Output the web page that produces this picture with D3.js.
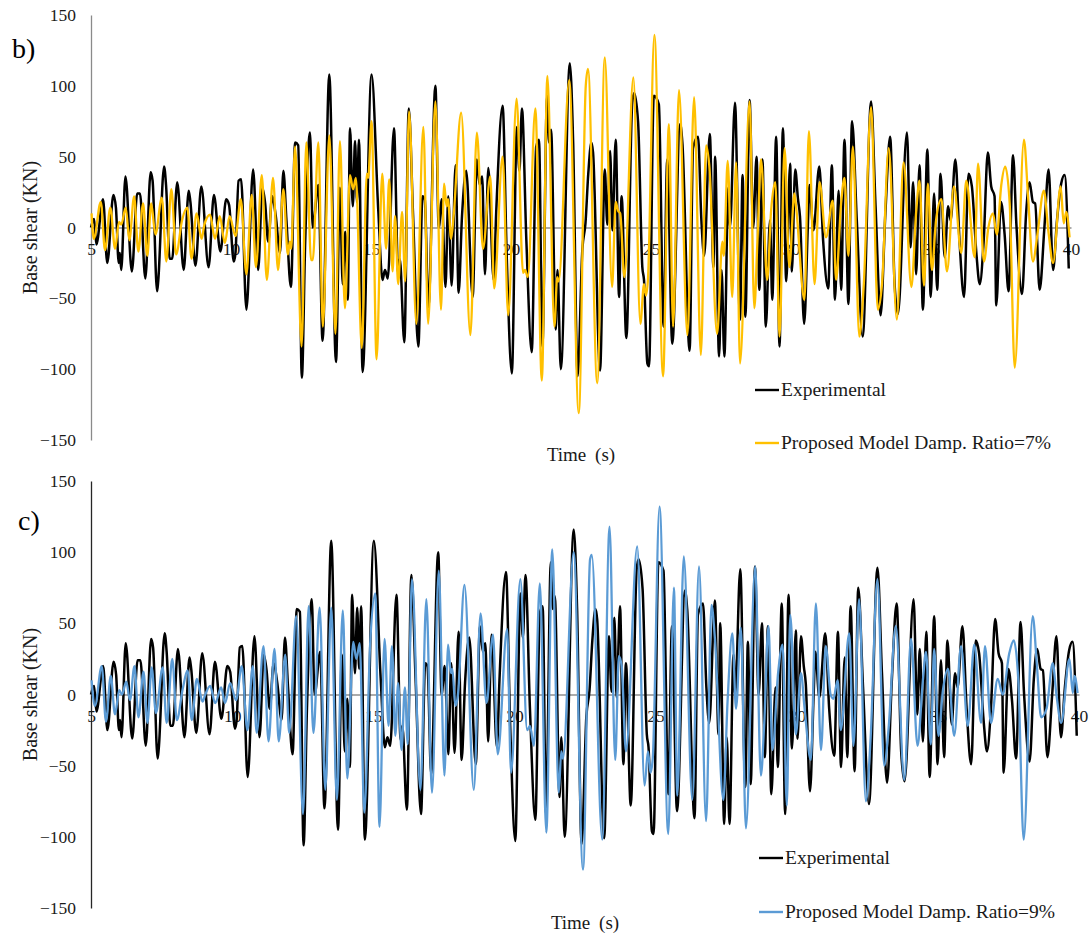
<!DOCTYPE html>
<html>
<head>
<meta charset="utf-8">
<script src="https://cdn.jsdelivr.net/npm/d3@7"></script>
<style>
  html, body { margin: 0; padding: 0; background: #fff; }
  svg { display: block; }
  text { font-family: "Liberation Serif", "Times New Roman", serif; }
</style>
</head>
<body>
<svg id="chart" width="1089" height="936"></svg>
<script>
// Tick values
const timeTicks = [5, 10, 15, 20, 25, 30, 35, 40];
const shearTicks = [-150, -100, -50, 0, 50, 100, 150];

// Measured base shear (KN) against time (s): turning points of the record
const experimental = [
  [5.00, 0], [5.11, 6], [5.19, -12], [5.43, 20], [5.58, -25], [5.80, 23], [5.89, 14], [5.99, -25], [6.03, -18], [6.08, -30],
  [6.23, 36], [6.46, -31], [6.65, 24], [6.75, 24], [6.94, -36], [7.13, 39], [7.20, 33], [7.36, -45], [7.40, -38], [7.61, 43],
  [7.68, 30], [7.81, -22], [7.90, -22], [8.08, 32], [8.31, -30], [8.49, 26], [8.55, 18], [8.73, -27], [8.94, 29], [9.20, -28],
  [9.39, 23], [9.62, -17], [9.83, 20], [9.93, 16], [10.10, -24], [10.16, -18], [10.27, 33], [10.36, 34], [10.55, -58], [10.79, 41],
  [10.97, -30], [11.12, 28], [11.22, 17], [11.33, -10], [11.47, 22], [11.60, 8], [11.75, -18], [11.87, 40], [11.98, 5], [12.14, -42],
  [12.29, 60], [12.40, 58], [12.53, -106], [12.65, -10], [12.82, 67], [12.92, 0], [13.12, 30], [13.27, -80], [13.51, 108], [13.75, -95],
  [13.89, 28], [13.99, -40], [14.08, -3], [14.17, -51], [14.25, 70], [14.35, 15], [14.43, 61], [14.50, 18], [14.57, 62], [14.70, -102],
  [15.02, 108], [15.26, 12], [15.41, -37], [15.50, -30], [15.60, -36], [15.82, 70], [15.97, -32], [16.03, -22], [16.19, -81], [16.35, 84],
  [16.50, 10], [16.69, -84], [16.84, 22], [16.92, 20], [17.05, -56], [17.30, 100], [17.42, 0], [17.53, 20], [17.66, -42], [17.76, 22],
  [17.88, -41], [18.02, 44], [18.13, -46], [18.25, 8], [18.40, 40], [18.63, -49], [18.78, 48], [18.88, 30], [18.97, 36], [19.07, -33],
  [19.19, 42], [19.38, -37], [19.47, 10], [19.70, 86], [19.85, -22], [20.03, -103], [20.21, 71], [20.30, 40], [20.39, 84], [20.55, -10],
  [20.74, -88], [20.90, 57], [21.00, 62], [21.12, -84], [21.29, 93], [21.36, 60], [21.43, 69], [21.60, -72], [21.66, -30], [21.78, -100],
  [22.10, 116], [22.22, 60], [22.38, -105], [22.55, -15], [22.66, 3], [22.76, 38], [22.87, 60], [22.93, 53], [23.18, -101], [23.35, 41],
  [23.44, 2], [23.54, 54], [23.62, -2], [23.74, 62], [23.86, -49], [23.95, 22], [24.12, -78], [24.33, 88], [24.40, 95], [24.54, 74],
  [24.69, -28], [24.75, -37], [24.87, -96], [24.93, -98], [25.10, 93], [25.28, 87], [25.45, -70], [25.58, 48], [25.76, -82], [26.04, 73],
  [26.12, 60], [26.38, -87], [26.50, 56], [26.68, 64], [26.80, 5], [26.90, -20], [27.10, 66], [27.23, -28], [27.29, 50], [27.43, -91],
  [27.52, -30], [27.62, -91], [27.76, 28], [27.82, 0], [28.00, 88], [28.18, -65], [28.27, 37], [28.37, -63], [28.52, 90], [28.65, 0],
  [28.77, 50], [28.87, -44], [28.98, 48], [29.10, -70], [29.25, 5], [29.33, -51], [29.47, 64], [29.59, -84], [29.71, 70], [29.83, -38],
  [29.97, 45], [30.03, -31], [30.15, 41], [30.25, 20], [30.32, 8], [30.47, -68], [30.60, 0], [30.66, 30], [30.80, -2], [31.01, 43],
  [31.15, -10], [31.33, -43], [31.46, 44], [31.57, -51], [31.70, 26], [31.79, -44], [31.91, 62], [32.05, -54], [32.18, 75], [32.35, 5],
  [32.56, -77], [32.86, 89], [33.02, 15], [33.20, -62], [33.37, 10], [33.54, 64], [33.70, -40], [33.82, -61], [34.14, 67], [34.27, -14],
  [34.36, 32], [34.47, -33], [34.59, 44], [34.71, -58], [34.87, 55], [34.99, -49], [35.11, 24], [35.22, -44], [35.34, 38], [35.49, -21],
  [35.61, 15], [35.70, 5], [35.87, 48], [36.02, -10], [36.18, -49], [36.34, 38], [36.46, 29], [36.62, -18], [36.74, -40], [36.88, -10],
  [37.03, 53], [37.15, 29], [37.27, 22], [37.33, -55], [37.50, 18], [37.63, -5], [37.77, -45], [37.93, 51], [38.05, 2], [38.25, -47],
  [38.40, 11], [38.52, 32], [38.64, 18], [38.72, 17], [38.88, -44], [39.05, 0], [39.20, 41], [39.36, -30], [39.50, 5], [39.65, 31],
  [39.77, 37], [39.92, -29]
];

// Proposed model, damping ratio 7%
const model7 = [
  [5.02, 10], [5.10, -8], [5.35, 18], [5.50, -16], [5.69, 14], [5.86, -15], [6.00, 4], [6.08, 2], [6.24, 14], [6.37, -9],
  [6.54, 22], [6.69, -17], [6.86, 17], [7.01, -20], [7.15, 17], [7.30, -5], [7.53, 21], [7.69, -24], [7.87, 27], [8.04, -19],
  [8.25, 5], [8.44, 14], [8.59, -22], [8.77, 10], [8.95, -8], [9.05, 2], [9.25, 9], [9.43, -8], [9.60, 8], [9.78, -11],
  [9.95, 8], [10.16, -6], [10.35, 20], [10.55, -33], [10.74, 23], [10.89, -28], [11.10, 37], [11.28, -37], [11.50, 35], [11.68, -30],
  [11.87, 27], [12.03, -19], [12.10, -10], [12.15, -15], [12.29, 57], [12.52, -84], [12.69, 60], [12.86, -23], [12.92, -23], [13.12, 60],
  [13.28, -70], [13.51, 65], [13.73, -75], [13.89, 61], [14.07, -57], [14.25, 37], [14.36, 27], [14.46, 35], [14.67, -85], [14.85, 38],
  [14.90, 35], [15.02, 75], [15.20, -93], [15.40, 38], [15.54, -15], [15.65, 34], [15.77, -31], [15.86, 8], [15.97, -40], [16.11, 11],
  [16.22, -38], [16.36, 82], [16.62, -68], [16.87, 71], [17.04, -68], [17.30, 89], [17.50, -58], [17.61, 31], [17.70, 15], [17.75, 20],
  [17.86, -8], [17.95, 8], [18.22, 81], [18.55, -76], [18.78, 67], [19.00, -15], [19.26, 36], [19.40, -43], [19.70, 50], [19.90, -62],
  [20.20, 91], [20.43, -32], [20.50, -30], [20.60, -35], [20.87, 84], [21.10, -108], [21.30, 107], [21.55, -70], [21.65, -35], [21.70, -38],
  [22.08, 104], [22.42, -131], [22.67, 100], [22.75, 112], [23.08, -110], [23.35, 120], [23.61, -42], [23.74, 18], [23.82, 12], [23.90, 10],
  [24.05, -35], [24.37, 106], [24.62, -68], [24.75, -40], [24.82, -48], [24.89, -37], [25.12, 136], [25.43, -105], [25.64, 73], [25.79, -70],
  [26.00, 97], [26.30, -76], [26.54, 92], [26.78, -90], [26.97, 58], [27.08, 44], [27.36, -75], [27.55, -10], [27.60, -20], [27.74, 47],
  [27.90, -49], [28.04, 46], [28.18, -96], [28.52, 89], [28.69, -57], [28.80, -10], [28.93, 48], [29.15, -37], [29.29, 12], [29.44, 32],
  [29.59, -77], [29.77, 56], [29.94, -28], [30.12, 24], [30.18, 15], [30.48, -51], [30.64, 68], [30.84, -40], [31.02, 32], [31.25, -7],
  [31.49, 19], [31.61, -37], [31.79, 17], [31.91, 35], [32.05, -20], [32.21, 57], [32.44, -77], [32.60, -40], [32.86, 85], [33.10, -58],
  [33.25, -40], [33.49, 56], [33.78, -65], [34.02, 46], [34.30, -42], [34.47, 11], [34.59, 33], [34.75, -41], [34.89, 31], [35.03, -30],
  [35.18, 5], [35.37, 20], [35.57, -31], [35.82, 29], [36.08, -18], [36.26, 33], [36.56, -21], [36.68, 45], [36.89, -24], [37.05, 0],
  [37.21, 10], [37.35, -5], [37.51, 30], [37.65, 43], [37.81, 17], [37.99, -99], [38.32, 62], [38.46, 24], [38.64, -24], [38.80, -5],
  [39.03, 26], [39.20, -4], [39.36, -25], [39.63, 29], [39.74, 3], [39.83, 11], [39.95, -7]
];

// Proposed model, damping ratio 9%
const model9 = [
  [5.02, 10], [5.14, -8], [5.38, 20], [5.53, -19], [5.70, 13], [5.85, -14], [6.00, 3], [6.10, 0], [6.25, 9], [6.38, -4],
  [6.54, 20], [6.68, -16], [6.86, 16], [7.00, -20], [7.15, 19], [7.30, -13], [7.54, 19], [7.68, -20], [7.88, 25], [8.04, -18],
  [8.25, 4], [8.42, 17], [8.57, -18], [8.75, 11], [8.95, -5], [9.05, 0], [9.22, 6], [9.40, -6], [9.61, 5], [9.75, -6],
  [9.93, 8], [10.14, -4], [10.34, 20], [10.54, -25], [10.73, 20], [10.87, -27], [11.11, 34], [11.29, -33], [11.50, 32], [11.65, -33],
  [11.88, 28], [12.02, -27], [12.27, 55], [12.51, -84], [12.71, 62], [12.88, -27], [13.10, 61], [13.30, -67], [13.51, 61], [13.71, -74],
  [13.92, 59], [14.08, -59], [14.29, 37], [14.40, 25], [14.52, 36], [14.68, -83], [14.89, 36], [15.07, 71], [15.22, -93], [15.40, 39],
  [15.54, -22], [15.66, 34], [15.78, -29], [15.88, 8], [16.00, -39], [16.12, 5], [16.22, -35], [16.37, 81], [16.67, -67], [16.88, 67],
  [17.08, -69], [17.32, 87], [17.52, -57], [17.65, 35], [17.75, 15], [17.80, 18], [17.91, -8], [18.00, 0], [18.23, 77], [18.56, -67],
  [18.80, 57], [19.01, -6], [19.24, 42], [19.41, -42], [19.74, 46], [19.88, -55], [20.21, 81], [20.45, -25], [20.55, -22], [20.69, -36],
  [20.90, 78], [21.13, -97], [21.34, 102], [21.57, -69], [21.66, -40], [21.72, -45], [22.10, 100], [22.43, -123], [22.68, 95], [22.74, 98],
  [23.11, -102], [23.37, 118], [23.57, -46], [23.70, 27], [23.80, 20], [23.95, -40], [24.35, 104], [24.61, -64], [24.73, -40], [24.82, -55],
  [24.90, -45], [25.14, 132], [25.45, -98], [25.65, 75], [25.77, -71], [26.00, 97], [26.30, -74], [26.54, 90], [26.79, -89], [26.98, 63],
  [27.10, 40], [27.40, -74], [27.55, -5], [27.72, 43], [27.85, -10], [28.02, 47], [28.20, -94], [28.53, 90], [28.73, -57], [28.85, -20],
  [29.00, 48], [29.14, -39], [29.34, 15], [29.50, 35], [29.65, -78], [29.77, 56], [29.97, -28], [30.15, 15], [30.28, -10], [30.50, -46],
  [30.68, 64], [30.86, -39], [31.03, 34], [31.20, 0], [31.30, -3], [31.45, 10], [31.56, -25], [31.86, 43], [32.01, -36], [32.21, 67],
  [32.45, -75], [32.62, -30], [32.86, 81], [33.10, -50], [33.25, -25], [33.51, 48], [33.81, -60], [34.05, 39], [34.28, -36], [34.47, 10],
  [34.58, 30], [34.75, -35], [34.87, 32], [35.02, -29], [35.18, 3], [35.36, 18], [35.58, -29], [35.82, 34], [36.06, -22], [36.29, 35],
  [36.53, -20], [36.67, 34], [36.88, -20], [37.12, 11], [37.30, 0], [37.53, 29], [37.69, 38], [37.85, 10], [38.04, -102], [38.36, 55],
  [38.51, 20], [38.66, -16], [38.85, -10], [39.07, 22], [39.20, 0], [39.37, -20], [39.66, 25], [39.78, 1], [39.84, 13], [39.95, 1]
];

const svg = d3.select("#chart");

function drawPanel(cfg) {
  const x = d3.scaleLinear().domain([5, 40]).range([91, cfg.right]);
  const y = d3.scaleLinear().domain([-150, 150]).range([cfg.bottom, cfg.top]);
  const g = svg.append("g");

  // vertical value axis
  const yAxis = g.append("g")
    .attr("transform", "translate(91,0)")
    .call(d3.axisLeft(y).tickValues(shearTicks).tickSize(0).tickSizeOuter(0).tickPadding(15));
  yAxis.select(".domain").attr("stroke", cfg.axisColor).attr("stroke-width", 1.3);
  yAxis.selectAll("text")
    .attr("font-family", "Liberation Serif, serif")
    .attr("font-size", 17.5)
    .attr("fill", "#1a1a1a");

  // time axis sitting on the zero line
  const xAxis = g.append("g")
    .attr("transform", `translate(0,${y(0)})`)
    .call(d3.axisBottom(x).tickValues(timeTicks).tickSize(0).tickSizeOuter(0).tickPadding(15));
  xAxis.select(".domain").attr("stroke", "#595959").attr("stroke-width", 1.2);
  xAxis.selectAll("text")
    .attr("font-family", "Liberation Serif, serif")
    .attr("font-size", 17.5)
    .attr("fill", "#1a1a1a");

  const line = d3.line()
    .x(d => x(d[0]))
    .y(d => y(d[1]))
    .curve(d3.curveMonotoneX);

  g.append("path").datum(experimental)
    .attr("fill", "none").attr("stroke", "#000").attr("stroke-width", 2.5)
    .attr("stroke-linejoin", "round").attr("d", line);
  g.append("path").datum(cfg.model)
    .attr("fill", "none").attr("stroke", cfg.color).attr("stroke-width", 2.3)
    .attr("stroke-linejoin", "round").attr("d", line);

  // axis titles and panel letter
  g.append("text")
    .attr("transform", `translate(37,${y(0)}) rotate(-90)`)
    .attr("text-anchor", "middle")
    .attr("font-size", 20)
    .attr("fill", "#1a1a1a")
    .text("Base shear (KN)");
  g.append("text")
    .attr("x", cfg.timeX).attr("y", cfg.timeY)
    .attr("text-anchor", "middle")
    .attr("font-size", 19)
    .attr("word-spacing", 4)
    .attr("fill", "#1a1a1a")
    .text("Time (s)");
  g.append("text")
    .attr("x", cfg.letterX).attr("y", cfg.letterY)
    .attr("font-size", 28)
    .attr("fill", "#000")
    .text(cfg.letter);

  // legend
  const items = [
    { label: "Experimental", color: "#000", y: cfg.legendY[0] },
    { label: cfg.modelLabel, color: cfg.color, y: cfg.legendY[1] }
  ];
  const lg = g.append("g");
  items.forEach(it => {
    lg.append("line")
      .attr("x1", cfg.legendX).attr("x2", cfg.legendX + 24)
      .attr("y1", it.y).attr("y2", it.y)
      .attr("stroke", it.color).attr("stroke-width", 2.4);
    lg.append("text")
      .attr("x", cfg.legendX + 26).attr("y", it.y + 6)
      .attr("font-size", 19.5)
      .attr("fill", "#1a1a1a")
      .text(it.label);
  });
}

drawPanel({
  top: 15, bottom: 440, right: 1071,
  axisColor: "#8a8a8a",
  model: model7, color: "#FFC000",
  modelLabel: "Proposed Model Damp. Ratio=7%",
  letter: "b)", letterX: 12, letterY: 58,
  timeX: 581, timeY: 461,
  legendX: 755, legendY: [390, 443]
});

drawPanel({
  top: 481, bottom: 908, right: 1079,
  axisColor: "#262626",
  model: model9, color: "#5B9BD5",
  modelLabel: "Proposed Model Damp. Ratio=9%",
  letter: "c)", letterX: 18, letterY: 530,
  timeX: 585, timeY: 929,
  legendX: 759, legendY: [858, 912]
});
</script>
</body>
</html>
